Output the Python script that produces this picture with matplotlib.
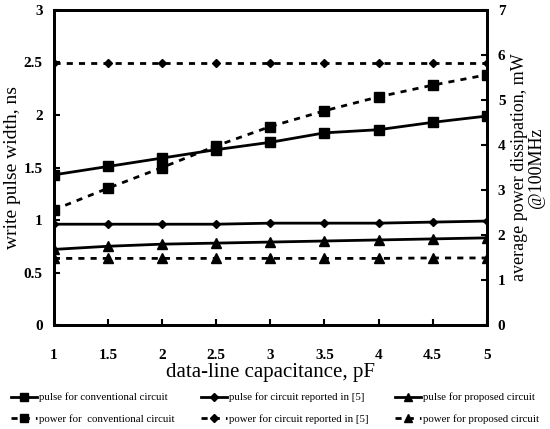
import matplotlib.pyplot as plt

plt.rcParams['font.family'] = ['Liberation Serif', 'DejaVu Serif']

# data-line capacitance (pF)
cap = [1, 1.5, 2, 2.5, 3, 3.5, 4, 4.5, 5]

# write pulse width, ns (left axis)
pulse_conv = [1.43, 1.51, 1.59, 1.67, 1.74, 1.83, 1.86, 1.93, 1.99]
pulse_ref5 = [0.96, 0.96, 0.96, 0.96, 0.97, 0.97, 0.97, 0.98, 0.99]
pulse_prop = [0.72, 0.75, 0.77, 0.78, 0.79, 0.80, 0.81, 0.82, 0.83]

# average power dissipation @100MHz, mW (right axis)
power_conv = [2.56, 3.04, 3.50, 3.98, 4.41, 4.76, 5.07, 5.33, 5.56]
power_ref5 = [5.82, 5.82, 5.82, 5.82, 5.82, 5.82, 5.82, 5.82, 5.82]
power_prop = [1.48, 1.48, 1.48, 1.48, 1.48, 1.48, 1.48, 1.49, 1.49]

fig = plt.figure(figsize=(5.5, 4.29), dpi=100)
ax = fig.add_axes([0.098, 0.2424, 0.787, 0.7343])
ax2 = ax.twinx()

dash = (0, (2.2, 2.2))
lw = 2
h1, = ax.plot(cap, pulse_conv, '-', color='black', lw=lw, marker='s', ms=6.5,
              label='pulse for conventional circuit')
h2, = ax.plot(cap, pulse_ref5, '-', color='black', lw=lw, marker='D', ms=4.5,
              label='pulse for circuit reported in [5]')
h3, = ax.plot(cap, pulse_prop, '-', color='black', lw=lw, marker='^', ms=7,
              label='pulse for proposed circuit')
h4, = ax2.plot(cap, power_conv, linestyle=dash, color='black', lw=lw, marker='s', ms=6.5,
               label='power for  conventional circuit')
h5, = ax2.plot(cap, power_ref5, linestyle=dash, color='black', lw=lw, marker='D', ms=4.5,
               label='power for circuit reported in [5]')
h6, = ax2.plot(cap, power_prop, linestyle=dash, color='black', lw=lw, marker='^', ms=7,
               label='power for proposed circuit')

ax.set_xlim(1, 5)
ax.set_ylim(0, 3)
ax2.set_ylim(0, 7)
ax.set_xticks(cap)
ax.set_xticklabels(['1', '1.5', '2', '2.5', '3', '3.5', '4', '4.5', '5'])
ax.set_yticks([0, 0.5, 1, 1.5, 2, 2.5, 3])
ax.set_yticklabels(['0', '0.5', '1', '1.5', '2', '2.5', '3'])
ax2.set_yticks(range(8))

for a in (ax, ax2):
    for s in a.spines.values():
        s.set_linewidth(2)
    a.tick_params(direction='in', length=4, width=1.5, labelsize=11)
    for t in a.get_xticklabels() + a.get_yticklabels():
        t.set_fontweight('bold')
ax.tick_params(axis='x', pad=17)
ax.tick_params(axis='y', pad=8)
ax2.tick_params(axis='y', pad=8)

ax.set_xlabel('data-line capacitance, pF', fontsize=15, labelpad=1)
ax.set_ylabel('write pulse width, ns', fontsize=14, labelpad=2)
ax2.set_ylabel('average power dissipation, mW\n@100MHz', fontsize=13,
               labelpad=4, linespacing=0.95, ha='center')

fig.legend([h1, h4, h2, h5, h3, h6],
           [h.get_label() for h in [h1, h4, h2, h5, h3, h6]],
           loc='lower center', bbox_to_anchor=(0.5, -0.005), ncol=3, frameon=False,
           fontsize=7.8, handlelength=2.4, handletextpad=0.2, columnspacing=2.4,
           labelspacing=1.05, borderaxespad=0.3, markerscale=0.8)

fig.savefig('out.png', dpi=100)
